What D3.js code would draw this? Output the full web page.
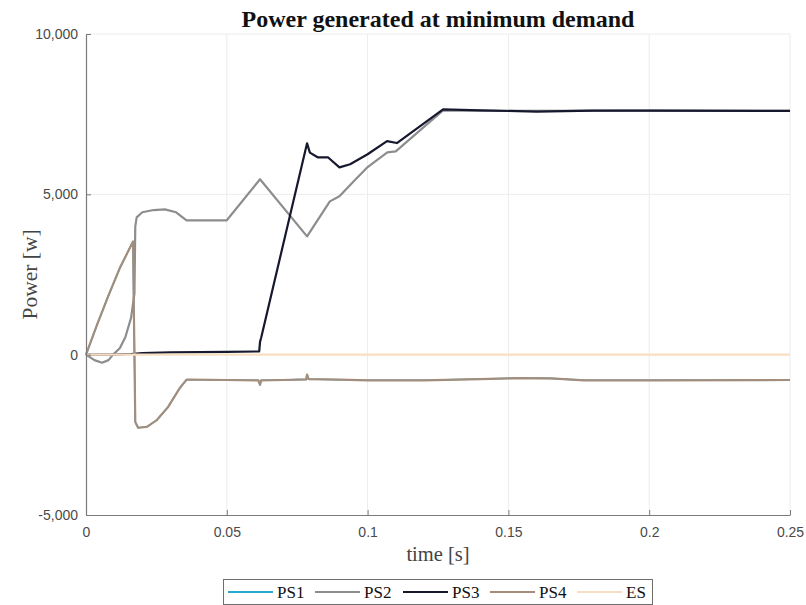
<!DOCTYPE html>
<html>
<head>
<meta charset="utf-8">
<script src="https://cdn.jsdelivr.net/npm/d3@7"></script>
<style>
  html, body { margin: 0; padding: 0; background: #ffffff; }
  svg { display: block; }
</style>
</head>
<body>
<svg id="chart" width="806" height="605"></svg>
<script>
// ---------------- data ----------------
const seriesNames = ["PS1", "PS2", "PS3", "PS4", "ES"];

const xTicks = [0, 0.05, 0.1, 0.15, 0.2, 0.25];
const xTickLabels = ["0", "0.05", "0.1", "0.15", "0.2", "0.25"];
const yTicks = [-5000, 0, 5000, 10000];
const yTickLabels = ["-5,000", "0", "5,000", "10,000"];

// PS1 (hidden underneath PS4 in the reference)
const ps1Time = [0, 0.004, 0.008, 0.012, 0.0167, 0.0175, 0.0185, 0.0216, 0.025, 0.029, 0.0334, 0.0357, 0.037, 0.05, 0.0612, 0.0618, 0.0622, 0.07, 0.0782, 0.0785, 0.079, 0.09, 0.1, 0.12, 0.14, 0.154, 0.165, 0.177, 0.2, 0.25];
const ps1Power = [0, 950, 1850, 2700, 3530, -2100, -2280, -2250, -2050, -1650, -1030, -780, -780, -790, -800, -940, -800, -790, -770, -620, -760, -780, -800, -800, -760, -730, -740, -800, -800, -790];

// PS2
const ps2Time = [0, 0.003, 0.0057, 0.008, 0.0096, 0.012, 0.014, 0.016, 0.0172, 0.0175, 0.018, 0.02, 0.024, 0.028, 0.032, 0.0357, 0.05, 0.0618, 0.0785, 0.0866, 0.09, 0.095, 0.1, 0.107, 0.11, 0.1268, 0.15, 0.2, 0.25];
const ps2Power = [0, -170, -250, -170, 0, 200, 550, 1150, 1900, 4000, 4280, 4440, 4510, 4530, 4440, 4190, 4190, 5470, 3690, 4780, 4940, 5400, 5850, 6310, 6340, 7620, 7600, 7610, 7600];

// PS3
const ps3Time = [0, 0.01, 0.016, 0.02, 0.03, 0.04, 0.05, 0.0615, 0.0618, 0.0622, 0.0785, 0.0795, 0.0824, 0.086, 0.09, 0.0938, 0.1, 0.1069, 0.1104, 0.1268, 0.14, 0.16, 0.18, 0.2, 0.25];
const ps3Power = [0, 0, 20, 50, 70, 80, 90, 100, 400, 530, 6590, 6300, 6150, 6150, 5840, 5940, 6250, 6660, 6600, 7650, 7620, 7580, 7610, 7610, 7600];

// PS4
const ps4Time = [0, 0.004, 0.008, 0.012, 0.0167, 0.0175, 0.0185, 0.0216, 0.025, 0.029, 0.0334, 0.0357, 0.037, 0.05, 0.0612, 0.0618, 0.0622, 0.07, 0.0782, 0.0785, 0.079, 0.09, 0.1, 0.12, 0.14, 0.154, 0.165, 0.177, 0.2, 0.25];
const ps4Power = [0, 950, 1850, 2700, 3530, -2100, -2280, -2250, -2050, -1650, -1030, -780, -780, -790, -800, -940, -800, -790, -770, -620, -760, -780, -800, -800, -760, -730, -740, -800, -800, -790];

// ES
const esTime = [0, 0.25];
const esPower = [0, 0];

const seriesColors = ["#27a8cc", "#8d8d8d", "#16182e", "#a38e7e", "#f8dfc2"];

// ---------------- build ----------------
const series = [
  { name: seriesNames[0], t: ps1Time, p: ps1Power, color: seriesColors[0], w: 1.6 },
  { name: seriesNames[1], t: ps2Time, p: ps2Power, color: seriesColors[1], w: 2.2 },
  { name: seriesNames[2], t: ps3Time, p: ps3Power, color: seriesColors[2], w: 2.2 },
  { name: seriesNames[3], t: ps4Time, p: ps4Power, color: seriesColors[3], w: 2.2 },
  { name: seriesNames[4], t: esTime, p: esPower, color: seriesColors[4], w: 2.2 }
];

const svg = d3.select("#chart");
const mLeft = 86, mRight = 790, mTop = 34, mBottom = 515;

const x = d3.scaleLinear().domain([0, 0.25]).range([mLeft, mRight]);
const y = d3.scaleLinear().domain([-5000, 10000]).range([mBottom, mTop]);

// grid
const grid = svg.append("g");
grid.selectAll("line.vx").data(xTicks.slice(1)).join("line")
  .attr("x1", d => x(d)).attr("x2", d => x(d))
  .attr("y1", mTop).attr("y2", mBottom)
  .attr("stroke", "#ececec").attr("stroke-width", 1);
grid.selectAll("line.hy").data(yTicks.slice(1)).join("line")
  .attr("x1", mLeft).attr("x2", mRight)
  .attr("y1", d => y(d)).attr("y2", d => y(d))
  .attr("stroke", "#ececec").attr("stroke-width", 1);

// lines
const line = d3.line().x(d => x(d[0])).y(d => y(d[1]));
const plot = svg.append("g");
series.forEach(s => {
  const pts = s.t.map((t, i) => [t, s.p[i]]);
  plot.append("path").datum(pts)
    .attr("d", line)
    .attr("fill", "none")
    .attr("stroke", s.color)
    .attr("stroke-width", s.w)
    .attr("stroke-linejoin", "round");
});

// axes
const axisColor = "#7a7a7a";
const xAxis = d3.axisBottom(x).tickValues(xTicks)
  .tickFormat((d, i) => xTickLabels[i]).tickSizeInner(-5).tickSizeOuter(0).tickPadding(12);
const gx = svg.append("g").attr("transform", `translate(0,${mBottom})`).call(xAxis);
const yAxis = d3.axisLeft(y).tickValues(yTicks)
  .tickFormat((d, i) => yTickLabels[i]).tickSizeInner(-5).tickSizeOuter(0).tickPadding(8);
const gy = svg.append("g").attr("transform", `translate(${mLeft},0)`).call(yAxis);

[gx, gy].forEach(g => {
  g.select(".domain").attr("stroke", axisColor).attr("stroke-width", 1.2);
  g.selectAll(".tick line").attr("stroke", axisColor);
  g.selectAll(".tick text")
    .attr("fill", "#4a4a4a")
    .style("font-family", "'Liberation Sans', Arial, sans-serif")
    .style("font-size", "14px");
});

// title
svg.append("text")
  .attr("x", (mLeft + mRight) / 2).attr("y", 27)
  .attr("text-anchor", "middle")
  .style("font-family", "'Liberation Serif', 'Times New Roman', serif")
  .style("font-weight", "bold")
  .style("font-size", "24px")
  .attr("fill", "#111")
  .text("Power generated at minimum demand");

// axis labels
svg.append("text")
  .attr("x", (mLeft + mRight) / 2).attr("y", 561)
  .attr("text-anchor", "middle")
  .style("font-family", "'Liberation Serif', 'Times New Roman', serif")
  .style("font-size", "20.5px")
  .attr("fill", "#444")
  .text("time [s]");

svg.append("text")
  .attr("transform", `translate(37,${(mTop + mBottom) / 2}) rotate(-90)`)
  .attr("text-anchor", "middle")
  .style("font-family", "'Liberation Serif', 'Times New Roman', serif")
  .style("font-size", "21.5px")
  .attr("fill", "#444")
  .text("Power [w]");

// legend
const lg = svg.append("g");
lg.append("rect")
  .attr("x", 223.5).attr("y", 579.5).attr("width", 429).attr("height", 25)
  .attr("fill", "#fff").attr("stroke", "#6e6e6e").attr("stroke-width", 1);
const entryX = [228, 315, 403, 490, 577];
series.forEach((s, i) => {
  const gx0 = entryX[i];
  lg.append("line")
    .attr("x1", gx0).attr("x2", gx0 + 45)
    .attr("y1", 592).attr("y2", 592)
    .attr("stroke", s.color).attr("stroke-width", 2.2);
  lg.append("text")
    .attr("x", gx0 + 49).attr("y", 598)
    .style("font-family", "'Liberation Serif', 'Times New Roman', serif")
    .style("font-size", "17px")
    .attr("fill", "#111")
    .text(s.name);
});
</script>
</body>
</html>
